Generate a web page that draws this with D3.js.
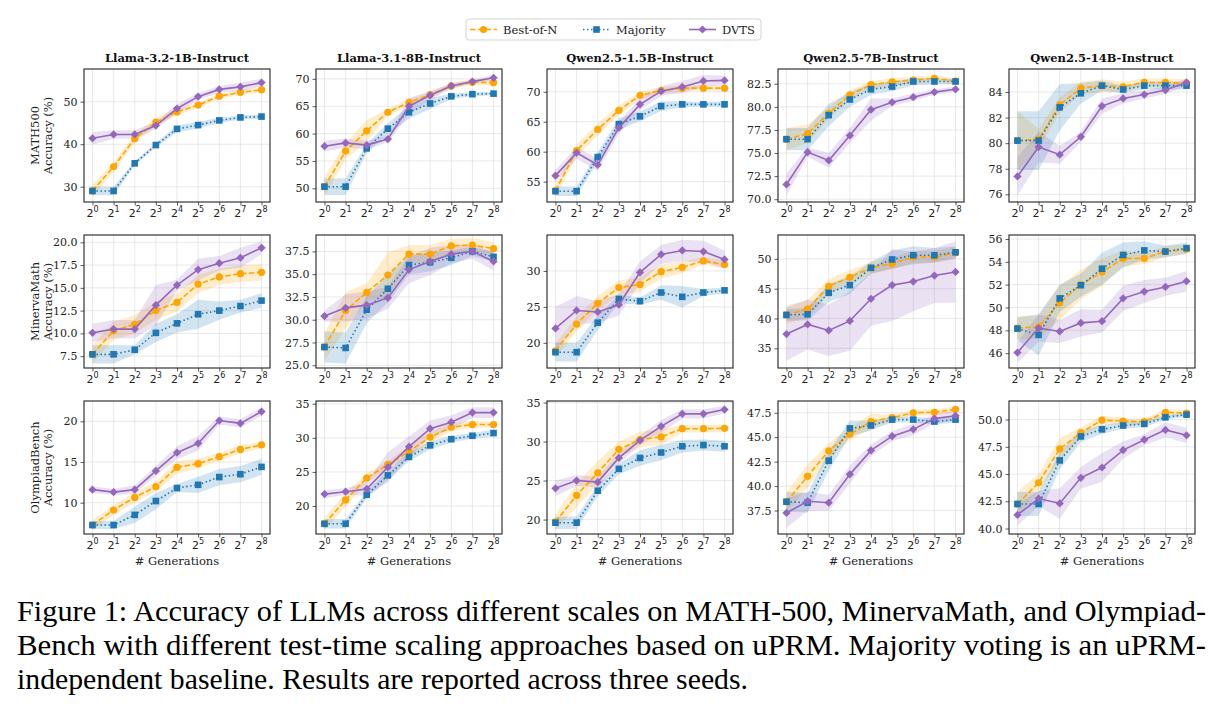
<!DOCTYPE html>
<html><head><meta charset="utf-8">
<script src="https://cdn.jsdelivr.net/npm/d3@7"></script>
<style>body{margin:0;background:#fff}</style></head>
<body>
<svg id="c" width="1223" height="709"></svg>
<script>
// ---------- DATA ----------
const models = ["Llama-3.2-1B-Instruct","Llama-3.1-8B-Instruct","Qwen2.5-1.5B-Instruct","Qwen2.5-7B-Instruct","Qwen2.5-14B-Instruct"];
const benchmarks = ["MATH500","MinervaMath","OlympiadBench"];
const exponents = [0,1,2,3,4,5,6,7,8];
const methods = ["Best-of-N","Majority","DVTS"];

const math500_bon = [
 [29.0,34.7,41.3,45.2,47.6,49.2,51.3,52.2,52.8],
 [50.3,56.8,60.5,63.9,65.7,67.1,68.7,69.4,69.3],
 [53.5,60.2,63.7,66.9,69.4,70.2,70.6,70.6,70.6],
 [76.5,77.1,79.3,81.3,82.4,82.7,82.9,83.1,82.8],
 [80.2,80.3,83.0,84.3,84.5,84.4,84.75,84.75,84.7]];
const math500_maj = [
 [29.0,29.0,35.5,39.8,43.6,44.5,45.6,46.3,46.5],
 [50.3,50.3,57.3,60.9,63.9,65.5,66.8,67.2,67.3],
 [53.4,53.4,59.1,64.6,65.9,67.6,67.9,67.9,67.9],
 [76.5,76.5,79.1,80.8,81.9,82.2,82.75,82.75,82.75],
 [80.2,80.2,82.8,83.9,84.5,84.2,84.5,84.5,84.5]];
const math500_dvts = [
 [41.4,42.3,42.3,44.4,48.4,51.2,52.9,53.5,54.5],
 [57.7,58.3,57.9,59.0,65.0,67.0,68.7,69.5,70.2],
 [56.0,59.8,57.8,64.0,67.9,70.1,70.8,71.8,71.9],
 [71.6,75.1,74.2,76.9,79.7,80.5,81.05,81.6,81.9],
 [77.4,79.7,79.1,80.5,82.9,83.5,83.8,84.15,84.75]];
const minerva_bon = [
 [7.7,10.3,11.0,12.5,13.4,15.4,16.2,16.55,16.7],
 [27.0,31.0,33.0,34.9,37.2,37.2,38.1,38.2,37.8],
 [18.9,22.6,25.5,27.7,28.1,29.9,30.5,31.4,30.9],
 [40.6,41.6,45.4,46.9,48.5,49.2,50.3,50.3,51.0],
 [48.2,48.3,50.4,52.0,53.1,54.3,54.3,54.9,55.1]];
const minerva_maj = [
 [7.7,7.7,8.2,10.06,11.1,12.1,12.5,13.0,13.6],
 [27.0,26.9,31.1,33.4,36.0,36.3,36.8,37.5,36.9],
 [18.7,18.7,22.8,26.1,25.8,27.0,26.4,27.0,27.3],
 [40.6,40.7,44.3,45.6,48.5,49.9,50.6,50.6,51.1],
 [48.15,47.6,50.8,51.95,53.4,54.6,55.0,54.9,55.2]];
const minerva_dvts = [
 [10.06,10.47,10.47,13.1,15.3,17.0,17.7,18.3,19.4],
 [30.4,31.3,31.6,32.4,35.5,36.4,37.2,37.5,36.4],
 [22.0,24.5,24.3,25.3,29.8,32.3,32.85,32.7,31.6],
 [37.4,39.0,38.0,39.6,43.3,45.6,46.2,47.2,47.8],
 [46.05,48.2,47.9,48.65,48.8,50.8,51.4,51.8,52.3]];
const olympiad_bon = [
 [7.25,9.1,10.65,11.97,14.35,14.8,15.65,16.55,17.1],
 [17.4,20.9,24.1,26.1,28.0,30.1,31.55,31.95,31.95],
 [19.7,23.1,26.0,29.0,30.25,30.6,31.65,31.65,31.7],
 [38.4,41.0,43.6,45.3,46.6,47.0,47.5,47.55,47.85],
 [42.25,44.2,47.3,48.8,49.95,49.85,49.8,50.65,50.6]];
const olympiad_maj = [
 [7.25,7.25,8.5,10.2,11.8,12.2,13.15,13.5,14.4],
 [17.4,17.4,21.65,24.5,27.2,28.9,29.8,30.3,30.7],
 [19.6,19.6,23.7,26.5,27.9,28.6,29.4,29.55,29.4],
 [38.4,38.3,42.6,45.9,46.2,46.8,46.8,46.6,46.8],
 [42.25,42.25,46.25,48.45,49.1,49.45,49.6,50.2,50.45]];
const olympiad_dvts = [
 [11.6,11.3,11.6,13.9,16.15,17.3,20.1,19.75,21.2],
 [21.75,22.1,22.5,25.7,28.7,31.35,32.3,33.7,33.7],
 [24.0,25.0,24.8,27.9,30.15,31.95,33.55,33.55,34.1],
 [37.25,38.45,38.3,41.2,43.65,45.1,45.8,46.9,47.2],
 [41.25,42.75,42.3,44.65,45.6,47.2,48.15,49.05,48.55]];

// band half-widths (spread across seeds)
const math500_bon_err = [
 [1.5,1.2,1.0,1.0,0.8,0.6,0.6,0.6,0.5],[1.8,1.5,2.0,0.6,0.6,0.5,0.5,0.5,0.5],
 [1,1,1,0.8,0.6,0.6,0.5,0.4,0.4],[1.2,1.0,0.6,0.5,0.4,0.4,0.4,0.3,0.3],
 [2.3,0.8,0.6,0.5,0.5,0.4,0.3,0.3,0.3]];
const math500_maj_err = [
 [1.0,1.0,0.5,0.5,0.8,0.8,0.6,0.5,0.5],[1.5,1.5,0.8,1.0,1.2,1.0,0.5,0.4,0.3],
 [0.8,0.8,0.8,1.0,0.8,0.8,0.5,0.4,0.5],[1.2,1.2,1.2,0.8,0.6,0.5,0.4,0.3,0.3],
 [2.3,2.3,1.8,0.8,0.4,0.3,0.3,0.3,0.3]];
const math500_dvts_err = [
 [1.5,1.0,1.0,0.8,1.0,0.8,0.8,1.0,0.9],[1.0,0.8,0.8,0.6,1.5,0.8,0.5,0.4,0.5],
 [1,1,1,1,1,0.8,1,1,0.8],[1.2,0.5,0.8,0.8,1.2,0.4,0.4,0.3,0.3],
 [1.5,1.2,0.7,0.4,0.6,0.4,0.3,0.3,0.3]];
const minerva_bon_err = [
 [1,1,1,1,1,1,0.9,0.9,0.9],[1.5,2,1,2.5,1,1,0.8,0.8,0.7],
 [1,1,1,1,1,1,0.8,0.5,0.6],[1.5,1.5,1.2,1.2,1,1,1,1,1],
 [1,1,1.5,1.3,1.2,0.7,0.5,0.5,0.4]];
const minerva_maj_err = [
 [1,1,0.5,1,1,1.6,1.0,0.7,0.8],[1.7,1.7,1.5,1.5,1.0,1.0,0.8,0.5,0.5],
 [1.3,1.3,1,0.6,0.5,1,1.5,0.5,0.4],[1,1,1.5,1.5,1,1.5,1.5,1.2,1],
 [1,1.8,1.2,1,1.4,1.1,0.8,0.5,0.5]];
const minerva_dvts_err = [
 [1,1,1,2.2,0.6,1.2,0.8,1.1,0.7],[0.6,1.5,1.5,1.2,1.5,1.5,1.0,0.8,1.0],
 [3,2,1.5,1.5,1.5,1.3,1.5,1.5,1.2],[4.5,4.2,4.3,5,4.5,6,5,4.6,5.1],
 [0.9,1.2,1.0,1.2,1.0,1.1,1.0,0.8,0.9]];
const olympiad_bon_err = [
 [0.6,0.6,0.6,0.6,0.8,0.6,0.5,0.5,0.4],[1,1,0.7,0.5,0.8,0.8,0.6,0.5,0.4],
 [1,1.5,1.5,1,1,1,0.5,0.5,0.5],[1,1.2,0.8,0.6,0.8,0.3,0.3,0.3,0.3],
 [1.1,0.8,1,0.5,0.4,0.3,0.3,0.3,0.3]];
const olympiad_maj_err = [
 [0.5,0.5,1,1,0.5,1,1,1,1],[0.7,0.7,0.5,0.7,0.6,0.6,0.5,0.4,0.5],
 [0.8,0.8,0.7,0.7,1,1,0.8,0.7,0.7],[1,1,1,0.8,0.5,0.3,0.3,0.3,0.3],
 [1.1,1.1,0.8,0.5,0.4,0.3,0.3,0.2,0.2]];
const olympiad_dvts_err = [
 [0.4,0.4,0.5,0.6,0.8,0.9,0.5,0.5,0.5],[0.6,0.5,1.0,2.2,1.5,1.2,1.0,0.8,0.8],
 [1,0.7,0.7,0.7,0.6,0.8,0.6,0.6,0.5],[1.5,1.0,0.8,0.9,0.6,0.5,0.6,0.5,0.5],
 [1,0.7,1.4,1,1.3,0.8,0.5,0.7,0.7]];

// y-axis ranges and ticks per benchmark row / model column
const math500_ydomain = [[26.4,57.7],[47.5,71.8],[51.6,73.8],[69.7,84.1],[75.4,85.8]];
const minerva_ydomain = [[6.2,20.8],[24.7,39.3],[16.5,35.0],[31.7,54.0],[44.7,56.35]];
const olympiad_ydomain = [[6.15,22.5],[15.9,35.4],[18.15,35.2],[35.1,48.7],[39.5,51.7]];
const math500_yticks = [[30,40,50],[50,55,60,65,70],[55,60,65,70],[70,72.5,75,77.5,80,82.5],[76,78,80,82,84]];
const minerva_yticks = [[7.5,10,12.5,15,17.5,20],[25,27.5,30,32.5,35,37.5],[20,25,30],[35,40,45,50],[46,48,50,52,54,56]];
const olympiad_yticks = [[10,15,20],[20,25,30,35],[20,25,30,35],[37.5,40,42.5,45,47.5],[40,42.5,45,47.5,50]];

const caption = [
 "Figure 1: Accuracy of LLMs across different scales on MATH-500, MinervaMath, and Olympiad-",
 "Bench with different test-time scaling approaches based on uPRM. Majority voting is an uPRM-",
 "independent baseline. Results are reported across three seeds."];

// ---------- TABLES built from arrays ----------
const values = [[math500_bon,math500_maj,math500_dvts],[minerva_bon,minerva_maj,minerva_dvts],[olympiad_bon,olympiad_maj,olympiad_dvts]];
const errs = [[math500_bon_err,math500_maj_err,math500_dvts_err],[minerva_bon_err,minerva_maj_err,minerva_dvts_err],[olympiad_bon_err,olympiad_maj_err,olympiad_dvts_err]];
const ydomains = [math500_ydomain, minerva_ydomain, olympiad_ydomain];
const yticks = [math500_yticks, minerva_yticks, olympiad_yticks];

// ---------- STYLE ----------
const colors = ["#ffa500","#1f77b4","#9467bd"];
const dashes = ["5.5,2.4","1.5,2.5",null];
const serif = "'DejaVu Serif', serif";
const sans = "'DejaVu Sans', sans-serif";
const panelLeft = [84, 316, 547, 778, 1009];
const panelTop = [69, 235, 401];
const PW = 186, PH = 133;

const svg = d3.select("#c");

function marker(g, m, x, y){
  if (m===0) g.append("circle").attr("cx",x).attr("cy",y).attr("r",3.6).attr("fill",colors[0]);
  else if (m===1) g.append("rect").attr("x",x-3.3).attr("y",y-3.3).attr("width",6.6).attr("height",6.6).attr("fill",colors[1]);
  else g.append("path").attr("d",d3.symbol(d3.symbolSquare,34)()).attr("transform",`translate(${x},${y}) rotate(45)`).attr("fill",colors[2]);
}

benchmarks.forEach((bench, r) => {
  models.forEach((model, c) => {
    const L = panelLeft[c], T = panelTop[r];
    const g = svg.append("g").attr("transform",`translate(${L},${T})`);
    const x = d3.scaleLinear().domain([-0.4, 8.4]).range([0, PW]);
    const y = d3.scaleLinear().domain(ydomains[r][c]).range([PH, 0]);
    const ticks = yticks[r][c];
    const fmt = ticks.some(t => t % 1 !== 0) ? d3.format(".1f") : d3.format("d");

    // grid
    g.append("g").selectAll("line").data(exponents).join("line")
      .attr("x1",d=>x(d)).attr("x2",d=>x(d)).attr("y1",0).attr("y2",PH)
      .attr("stroke","#b0b0b0").attr("stroke-opacity",0.35).attr("stroke-width",0.8);
    g.append("g").selectAll("line").data(ticks).join("line")
      .attr("x1",0).attr("x2",PW).attr("y1",d=>y(d)).attr("y2",d=>y(d))
      .attr("stroke","#b0b0b0").attr("stroke-opacity",0.35).attr("stroke-width",0.8);

    const clip = g.append("g");
    // bands
    methods.forEach((m, k) => {
      const v = values[r][k][c], e = errs[r][k][c];
      const area = d3.area().x((d,i)=>x(exponents[i])).y0((d,i)=>y(v[i]-e[i])).y1((d,i)=>y(v[i]+e[i]));
      clip.append("path").datum(v).attr("d",area).attr("fill",colors[k]).attr("fill-opacity",0.2);
    });
    // lines + markers
    methods.forEach((m, k) => {
      const v = values[r][k][c];
      const line = d3.line().x((d,i)=>x(exponents[i])).y(d=>y(d));
      clip.append("path").datum(v).attr("d",line).attr("fill","none")
        .attr("stroke",colors[k]).attr("stroke-width",1.6)
        .attr("stroke-dasharray",dashes[k]);
      v.forEach((d,i)=>marker(clip,k,x(exponents[i]),y(d)));
    });

    // y axis
    const ya = g.append("g").call(d3.axisLeft(y).tickValues(ticks).tickFormat(fmt).tickSize(3.5).tickPadding(3));
    ya.select(".domain").remove();
    ya.selectAll("line").attr("stroke","#333").attr("stroke-width",0.8);
    ya.selectAll("text").attr("font-family",serif).attr("font-size",11).attr("fill","#222");
    // x axis
    const xa = g.append("g").attr("transform",`translate(0,${PH})`)
      .call(d3.axisBottom(x).tickValues(exponents).tickFormat("").tickSize(3.5));
    xa.select(".domain").remove();
    xa.selectAll("line").attr("stroke","#333").attr("stroke-width",0.8);
    exponents.forEach(ex => {
      const t = g.append("text").attr("x",x(ex)).attr("y",PH+15).attr("text-anchor","middle")
        .attr("font-family",sans).attr("font-size",11).attr("fill","#222");
      t.append("tspan").text("2");
      t.append("tspan").attr("dy",-5).attr("font-size",8).text(String(ex));
    });
    // frame
    g.append("rect").attr("width",PW).attr("height",PH).attr("fill","none").attr("stroke","#222").attr("stroke-width",1.1);

    if (r===0) g.append("text").attr("x",PW/2).attr("y",-7).attr("text-anchor","middle")
      .attr("font-family",serif).attr("font-weight","bold").attr("font-size",11.5).attr("fill","#111").text(model);
    if (c===0) {
      const lab = g.append("text").attr("transform",`translate(-45,${PH/2}) rotate(-90)`).attr("text-anchor","middle")
        .attr("font-family",serif).attr("font-size",11.5).attr("fill","#222");
      lab.append("tspan").attr("x",0).attr("dy",0).text(bench);
      lab.append("tspan").attr("x",0).attr("dy",13).text("Accuracy (%)");
    }
    if (r===2) g.append("text").attr("x",PW/2).attr("y",PH+31).attr("text-anchor","middle")
      .attr("font-family",serif).attr("font-size",11.5).attr("fill","#222").text("# Generations");
  });
});

// legend
const lg = svg.append("g");
lg.append("rect").attr("x",466).attr("y",19).attr("width",295).attr("height",21).attr("rx",3)
  .attr("fill","#fff").attr("stroke","#d0d0d0").attr("stroke-width",0.9);
const legX = [470, 583, 689];
methods.forEach((m,k)=>{
  lg.append("line").attr("x1",legX[k]).attr("x2",legX[k]+27).attr("y1",29.5).attr("y2",29.5)
    .attr("stroke",colors[k]).attr("stroke-width",1.6).attr("stroke-dasharray",dashes[k]);
  marker(lg,k,legX[k]+13.5,29.5);
  lg.append("text").attr("x",legX[k]+33).attr("y",33.5).attr("font-family",serif).attr("font-size",11.5)
    .attr("fill","#222").text(m);
});

// caption
const capY = [621, 655, 689];
const capW = [1189, 1189, 731];
caption.forEach((line,i)=>{
  svg.append("text").attr("x",17).attr("y",capY[i]).attr("font-family","'Liberation Serif', 'Times New Roman', serif")
    .attr("font-size",30).attr("fill","#000").attr("textLength",capW[i]).attr("lengthAdjust","spacingAndGlyphs").text(line);
});
</script>
</body></html>
